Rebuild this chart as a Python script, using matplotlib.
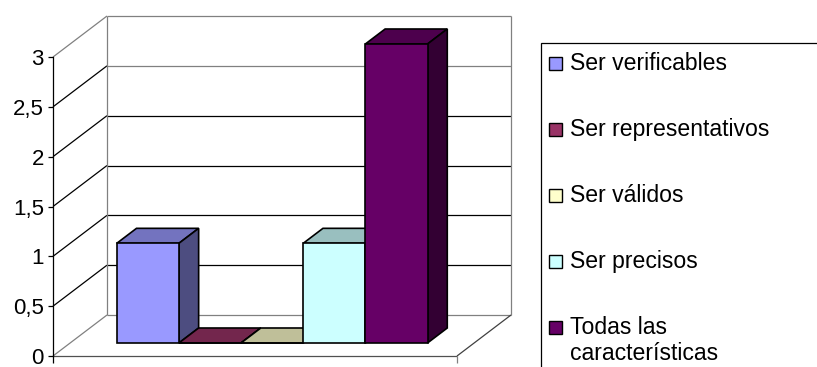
import matplotlib.pyplot as plt
from matplotlib.patches import Polygon, Rectangle

series = ["Ser verificables", "Ser representativos", "Ser válidos",
          "Ser precisos", "Todas las\ncaracterísticas"]
values = [1, 0, 0, 1, 3]
colors = ["#9999FF", "#993366", "#FFFFCC", "#CCFFFF", "#660066"]
y_ticks = [0, 0.5, 1, 1.5, 2, 2.5, 3]
y_labels = ["0", "0,5", "1", "1,5", "2", "2,5", "3"]

plt.rcParams['font.family'] = ['Liberation Sans', 'DejaVu Sans']
FS = 16
LEG_FS = 16.6
GRAY = "#808080"

W, H = 817, 367
fig = plt.figure(figsize=(W / 100, H / 100), dpi=100)

# front plane of the 3d box, pixel coords
x0px, x1px, y0px, y1px = 53, 457, 356, 57
ax = fig.add_axes([x0px / W, (H - y0px) / H, (x1px - x0px) / W, (y0px - y1px) / H])
gap = 0.75
xmax = len(values) + 2 * gap
ymax = y_ticks[-1]
ax.set_xlim(0, xmax)
ax.set_ylim(0, ymax)

# depth of the box (pixel offset of back wall), converted to data units
dpx, dpy = 54, 41
ddx = dpx / ((x1px - x0px) / xmax)
ddy = dpy / ((y0px - y1px) / ymax)


def P(x, y, f):
    return (x + f * ddx, y + f * ddy)


def line(pts, color, lw=0.9, z=1):
    xs, ys = zip(*pts)
    ax.plot(xs, ys, color=color, lw=lw, clip_on=False, zorder=z, solid_capstyle='butt')


def shade(c, k):
    c = c.lstrip("#")
    rgb = [int(c[i:i + 2], 16) / 255 * k for i in (0, 2, 4)]
    return tuple(rgb)


# back wall + side wall + grid
for v in y_ticks:
    col = GRAY if v in (0, ymax, 2.5) else "black"
    line([P(0, v, 1), P(xmax, v, 1)], col)
    col2 = GRAY if v in (0, ymax) else "black"
    line([P(0, v, 0), P(0, v, 1)], col2)
line([P(0, 0, 1), P(0, ymax, 1)], GRAY)
line([P(xmax, 0, 1), P(xmax, ymax, 1)], GRAY)

# floor
line([P(0, 0, 0), P(xmax, 0, 0)], "#505050")
line([P(xmax, 0, 0), P(xmax, 0, 1)], "#404040")
line([P(xmax, 0, 0), P(xmax, -0.07, 0)], GRAY)
line([P(0, 0, 0), P(0, -0.07, 0)], "black")

# bars
f1, f2 = 0.317, 0.683
for i, (v, c) in enumerate(zip(values, colors)):
    a = gap + i
    b = a + 1
    top = [P(a, v, f1), P(b, v, f1), P(b, v, f2), P(a, v, f2)]
    side = [P(b, 0, f1), P(b, v, f1), P(b, v, f2), P(b, 0, f2)]
    front = [P(a, 0, f1), P(b, 0, f1), P(b, v, f1), P(a, v, f1)]
    for poly, k in ((top, 0.75), (side, 0.5), (front, 1.0)):
        ax.add_patch(Polygon(poly, closed=True, facecolor=shade(c, k),
                             edgecolor="black", lw=1.2, joinstyle='miter',
                             clip_on=False, zorder=3 + i))

# front axis
for s in ("top", "right", "bottom"):
    ax.spines[s].set_visible(False)
ax.spines["left"].set_color("black")
ax.spines["left"].set_linewidth(0.9)
ax.set_xticks([])
ax.set_yticks(y_ticks, y_labels)
ax.tick_params(axis="y", length=3.6, width=0.9, pad=3, labelsize=FS)
ax.patch.set_visible(False)

# legend box
fx = lambda px: px / W
fy = lambda py: (H - py) / H
fig.patches.append(Rectangle((fx(541), fy(400)), fx(320), 357 / H, transform=fig.transFigure,
                             facecolor="none", edgecolor="black", lw=0.9))
for i, (name, c) in enumerate(zip(series, colors)):
    cy = 63.5 + 66 * i
    fig.patches.append(Rectangle((fx(549), fy(cy + 6.5)), 13 / W, 13 / H,
                                 transform=fig.transFigure, facecolor=c,
                                 edgecolor="black", lw=1))
    for k, part in enumerate(name.split("\n")):
        fig.text(fx(570), fy(cy + 26 * k), part, fontsize=LEG_FS, va="center", ha="left")

fig.savefig("out.png", dpi=100)
